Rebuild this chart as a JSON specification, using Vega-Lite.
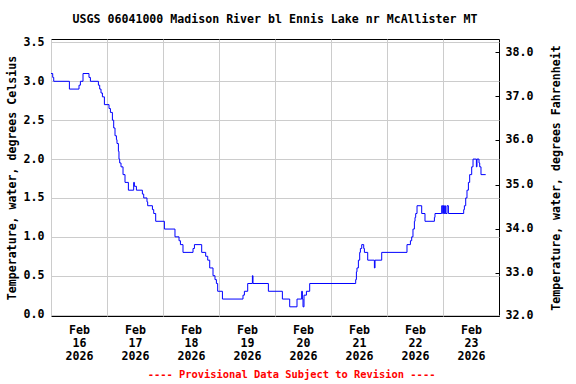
{
  "$schema": "https://vega.github.io/schema/vega-lite/v6.json",
  "width": 448,
  "height": 277,
  "autosize": "none",
  "padding": {"left": 51, "top": 39, "right": 77, "bottom": 68},
  "background": "white",
  "config": {"view": {"stroke": "black", "strokeWidth": 1}, "font": "DejaVu Sans Mono"},
  "title": {"text": "USGS 06041000 Madison River bl Ennis Lake nr McAllister MT", "font": "DejaVu Sans Mono", "fontSize": 11.6, "fontWeight": "bold", "color": "black", "anchor": "middle", "offset": 11},
  "data": {"values": [
    {"time": "2026-02-16T00:00", "temp_c": 3.1},
    {"time": "2026-02-16T00:44", "temp_c": 3.05},
    {"time": "2026-02-16T01:10", "temp_c": 3.0},
    {"time": "2026-02-16T07:53", "temp_c": 2.9},
    {"time": "2026-02-16T12:00", "temp_c": 2.95},
    {"time": "2026-02-16T12:36", "temp_c": 3.0},
    {"time": "2026-02-16T13:43", "temp_c": 3.1},
    {"time": "2026-02-16T16:17", "temp_c": 3.05},
    {"time": "2026-02-16T16:53", "temp_c": 3.0},
    {"time": "2026-02-16T20:19", "temp_c": 2.95},
    {"time": "2026-02-16T20:52", "temp_c": 2.9},
    {"time": "2026-02-16T21:26", "temp_c": 2.85},
    {"time": "2026-02-16T22:02", "temp_c": 2.8},
    {"time": "2026-02-16T22:53", "temp_c": 2.7},
    {"time": "2026-02-17T00:52", "temp_c": 2.65},
    {"time": "2026-02-17T01:28", "temp_c": 2.6},
    {"time": "2026-02-17T02:19", "temp_c": 2.5},
    {"time": "2026-02-17T02:52", "temp_c": 2.4},
    {"time": "2026-02-17T03:26", "temp_c": 2.3},
    {"time": "2026-02-17T04:02", "temp_c": 2.25},
    {"time": "2026-02-17T04:17", "temp_c": 2.2},
    {"time": "2026-02-17T04:53", "temp_c": 2.1},
    {"time": "2026-02-17T05:08", "temp_c": 2.0},
    {"time": "2026-02-17T05:26", "temp_c": 1.95},
    {"time": "2026-02-17T06:00", "temp_c": 1.9},
    {"time": "2026-02-17T06:52", "temp_c": 1.8},
    {"time": "2026-02-17T07:43", "temp_c": 1.7},
    {"time": "2026-02-17T09:10", "temp_c": 1.6},
    {"time": "2026-02-17T11:26", "temp_c": 1.7},
    {"time": "2026-02-17T11:44", "temp_c": 1.65},
    {"time": "2026-02-17T12:36", "temp_c": 1.6},
    {"time": "2026-02-17T15:10", "temp_c": 1.55},
    {"time": "2026-02-17T15:44", "temp_c": 1.5},
    {"time": "2026-02-17T17:08", "temp_c": 1.45},
    {"time": "2026-02-17T17:26", "temp_c": 1.4},
    {"time": "2026-02-17T19:28", "temp_c": 1.35},
    {"time": "2026-02-17T20:01", "temp_c": 1.3},
    {"time": "2026-02-17T20:52", "temp_c": 1.2},
    {"time": "2026-02-18T00:36", "temp_c": 1.1},
    {"time": "2026-02-18T05:08", "temp_c": 1.0},
    {"time": "2026-02-18T06:52", "temp_c": 0.95},
    {"time": "2026-02-18T07:28", "temp_c": 0.9},
    {"time": "2026-02-18T08:34", "temp_c": 0.8},
    {"time": "2026-02-18T12:52", "temp_c": 0.85},
    {"time": "2026-02-18T13:28", "temp_c": 0.9},
    {"time": "2026-02-18T16:35", "temp_c": 0.8},
    {"time": "2026-02-18T18:18", "temp_c": 0.75},
    {"time": "2026-02-18T19:10", "temp_c": 0.7},
    {"time": "2026-02-18T20:01", "temp_c": 0.6},
    {"time": "2026-02-18T21:26", "temp_c": 0.5},
    {"time": "2026-02-18T22:17", "temp_c": 0.45},
    {"time": "2026-02-18T22:53", "temp_c": 0.4},
    {"time": "2026-02-18T23:26", "temp_c": 0.3},
    {"time": "2026-02-19T01:28", "temp_c": 0.2},
    {"time": "2026-02-19T10:17", "temp_c": 0.25},
    {"time": "2026-02-19T10:53", "temp_c": 0.3},
    {"time": "2026-02-19T12:18", "temp_c": 0.4},
    {"time": "2026-02-19T14:19", "temp_c": 0.5},
    {"time": "2026-02-19T14:34", "temp_c": 0.4},
    {"time": "2026-02-19T21:10", "temp_c": 0.3},
    {"time": "2026-02-20T03:10", "temp_c": 0.2},
    {"time": "2026-02-20T06:18", "temp_c": 0.1},
    {"time": "2026-02-20T09:26", "temp_c": 0.2},
    {"time": "2026-02-20T11:26", "temp_c": 0.3},
    {"time": "2026-02-20T11:44", "temp_c": 0.2},
    {"time": "2026-02-20T12:00", "temp_c": 0.1},
    {"time": "2026-02-20T12:26", "temp_c": 0.25},
    {"time": "2026-02-20T13:28", "temp_c": 0.3},
    {"time": "2026-02-20T14:52", "temp_c": 0.4},
    {"time": "2026-02-21T10:35", "temp_c": 0.45},
    {"time": "2026-02-21T10:53", "temp_c": 0.55},
    {"time": "2026-02-21T11:08", "temp_c": 0.6},
    {"time": "2026-02-21T11:44", "temp_c": 0.7},
    {"time": "2026-02-21T12:18", "temp_c": 0.8},
    {"time": "2026-02-21T12:36", "temp_c": 0.85},
    {"time": "2026-02-21T13:10", "temp_c": 0.9},
    {"time": "2026-02-21T14:01", "temp_c": 0.85},
    {"time": "2026-02-21T14:19", "temp_c": 0.8},
    {"time": "2026-02-21T15:44", "temp_c": 0.7},
    {"time": "2026-02-21T18:36", "temp_c": 0.6},
    {"time": "2026-02-21T18:52", "temp_c": 0.7},
    {"time": "2026-02-21T21:44", "temp_c": 0.8},
    {"time": "2026-02-22T08:34", "temp_c": 0.9},
    {"time": "2026-02-22T10:02", "temp_c": 0.95},
    {"time": "2026-02-22T10:35", "temp_c": 1.0},
    {"time": "2026-02-22T11:08", "temp_c": 1.1},
    {"time": "2026-02-22T11:44", "temp_c": 1.2},
    {"time": "2026-02-22T12:00", "temp_c": 1.25},
    {"time": "2026-02-22T12:18", "temp_c": 1.3},
    {"time": "2026-02-22T12:52", "temp_c": 1.4},
    {"time": "2026-02-22T14:52", "temp_c": 1.3},
    {"time": "2026-02-22T16:17", "temp_c": 1.2},
    {"time": "2026-02-22T20:19", "temp_c": 1.25},
    {"time": "2026-02-22T20:34", "temp_c": 1.3},
    {"time": "2026-02-22T23:26", "temp_c": 1.4},
    {"time": "2026-02-22T23:52", "temp_c": 1.3},
    {"time": "2026-02-23T00:10", "temp_c": 1.4},
    {"time": "2026-02-23T00:26", "temp_c": 1.3},
    {"time": "2026-02-23T00:44", "temp_c": 1.4},
    {"time": "2026-02-23T01:02", "temp_c": 1.3},
    {"time": "2026-02-23T01:43", "temp_c": 1.4},
    {"time": "2026-02-23T02:19", "temp_c": 1.3},
    {"time": "2026-02-23T08:52", "temp_c": 1.35},
    {"time": "2026-02-23T09:10", "temp_c": 1.4},
    {"time": "2026-02-23T09:44", "temp_c": 1.5},
    {"time": "2026-02-23T10:17", "temp_c": 1.6},
    {"time": "2026-02-23T10:53", "temp_c": 1.7},
    {"time": "2026-02-23T11:26", "temp_c": 1.8},
    {"time": "2026-02-23T12:18", "temp_c": 1.9},
    {"time": "2026-02-23T12:52", "temp_c": 2.0},
    {"time": "2026-02-23T14:19", "temp_c": 1.9},
    {"time": "2026-02-23T14:34", "temp_c": 2.0},
    {"time": "2026-02-23T15:26", "temp_c": 1.95},
    {"time": "2026-02-23T15:44", "temp_c": 1.9},
    {"time": "2026-02-23T16:17", "temp_c": 1.8},
    {"time": "2026-02-23T18:18", "temp_c": 1.8}
  ]},
  "layer": [
    {
      "mark": {"type": "line", "interpolate": "step-after", "color": "#0000ff", "strokeWidth": 1},
      "encoding": {
        "x": {
          "field": "time", "type": "temporal",
          "scale": {"domain": [{"year": 2026, "month": "feb", "date": 16}, {"year": 2026, "month": "feb", "date": 24}]},
          "axis": {
            "values": [
              {"year": 2026, "month": "feb", "date": 16},
              {"year": 2026, "month": "feb", "date": 17},
              {"year": 2026, "month": "feb", "date": 18},
              {"year": 2026, "month": "feb", "date": 19},
              {"year": 2026, "month": "feb", "date": 20},
              {"year": 2026, "month": "feb", "date": 21},
              {"year": 2026, "month": "feb", "date": 22},
              {"year": 2026, "month": "feb", "date": 23}
            ],
            "labelExpr": "[timeFormat(datum.value, '%b'), timeFormat(datum.value, '%d'), timeFormat(datum.value, '%Y')]",
            "labelOffset": 28,
            "labelFlush": false,
            "labelOverlap": false,
            "labelBound": false,
            "ticks": false,
            "domain": false,
            "grid": true,
            "gridColor": "#cccccc",
            "gridWidth": 1,
            "labelFont": "DejaVu Sans Mono",
            "labelFontSize": 11.6,
            "labelFontWeight": "bold",
            "labelColor": "black",
            "labelPadding": 8,
            "labelLineHeight": 13,
            "labelBaseline": "top",
            "title": "---- Provisional Data Subject to Revision ----",
            "titleFont": "DejaVu Sans Mono",
            "titleFontSize": 10.4,
            "titleFontWeight": "bold",
            "titleColor": "#ff0000",
            "titleX": 240,
            "titleAlign": "center",
            "titlePadding": 8
          }
        },
        "y": {
          "field": "temp_c", "type": "quantitative",
          "scale": {"domain": [-0.018, 3.544], "nice": false, "zero": false},
          "axis": {
            "orient": "left",
            "values": [0, 0.5, 1, 1.5, 2, 2.5, 3, 3.5],
            "format": ".1f",
            "ticks": false,
            "domain": false,
            "grid": true,
            "gridColor": "#cccccc",
            "gridWidth": 1,
            "labelFont": "DejaVu Sans Mono",
            "labelFontSize": 11.6,
            "labelFontWeight": "bold",
            "labelColor": "black",
            "labelPadding": 7,
            "title": "Temperature, water, degrees Celsius",
            "titleFont": "DejaVu Sans Mono",
            "titleFontSize": 11.6,
            "titleFontWeight": "bold",
            "titleColor": "black",
            "titlePadding": 6
          }
        }
      }
    },
    {
      "mark": {"type": "line", "opacity": 0},
      "encoding": {
        "x": {"field": "time", "type": "temporal"},
        "y": {
          "field": "temp_c", "type": "quantitative",
          "scale": {"domain": [-0.018, 3.544], "nice": false, "zero": false},
          "axis": {
            "orient": "right",
            "values": [-0.015, 0.537, 1.105, 1.672, 2.249, 2.808, 3.375],
            "labelExpr": "format(round(32 + datum.value * 1.7627), '.1f')",
            "ticks": true,
            "tickSize": -4,
            "tickColor": "black",
            "tickWidth": 1,
            "domain": false,
            "grid": false,
            "labelFont": "DejaVu Sans Mono",
            "labelFontSize": 11.6,
            "labelFontWeight": "bold",
            "labelColor": "black",
            "labelPadding": 10,
            "title": "Temperature, water, degrees Fahrenheit",
            "titleFont": "DejaVu Sans Mono",
            "titleFontSize": 11.6,
            "titleFontWeight": "bold",
            "titleColor": "black",
            "titleAngle": 270,
            "titlePadding": 29
          }
        }
      }
    }
  ],
  "resolve": {"scale": {"y": "independent"}, "axis": {"y": "independent"}}
}
